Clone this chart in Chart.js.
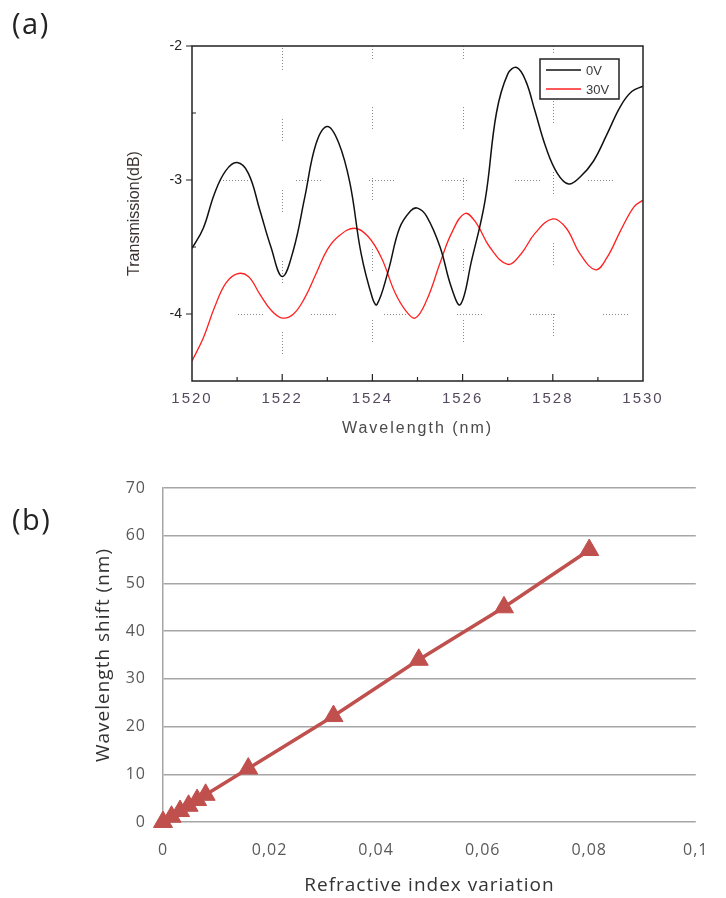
<!DOCTYPE html>
<html>
<head>
<meta charset="utf-8">
<script src="https://cdn.jsdelivr.net/npm/chart.js@4.4.1/dist/chart.umd.min.js"></script>
<style>
  html, body { margin: 0; padding: 0; background: #fff; }
  #page { position: relative; width: 726px; height: 898px; overflow: hidden; background: #fff; }
  .panel-label { position: absolute; left: 12px; font-family: "Open Sans", sans-serif; font-size: 29px; letter-spacing: 1.5px; color: #222; line-height: 1; }
  #chart-a { position: absolute; left: 0; top: 0; }
  #chart-b { position: absolute; left: 0; top: 450px; }
</style>
</head>
<body>
<div id="page">
  <canvas id="chart-a" width="726" height="450"></canvas>
  <canvas id="chart-b" width="726" height="448"></canvas>
  <div class="panel-label" style="top:8px">(a)</div>
  <div class="panel-label" style="top:504px">(b)</div>
</div>
<script>
// (a) transmission spectra
const wavelength0V = [1520, 1520.25, 1520.5, 1520.75, 1521, 1521.25, 1521.5, 1521.75, 1522, 1522.25, 1522.5, 1522.75, 1523, 1523.25, 1523.5, 1523.75, 1524, 1524.1, 1524.35, 1524.6, 1524.85, 1525, 1525.2, 1525.5, 1525.75, 1525.95, 1526.2, 1526.5, 1526.75, 1527, 1527.2, 1527.4, 1527.6, 1527.85, 1528.1, 1528.35, 1528.6, 1528.9, 1529.2, 1529.5, 1529.75, 1530];
const transmission0V = [-3.51, -3.36, -3.10, -2.93, -2.87, -2.95, -3.22, -3.50, -3.72, -3.52, -3.13, -2.73, -2.60, -2.72, -3.02, -3.55, -3.88, -3.93, -3.68, -3.36, -3.23, -3.21, -3.27, -3.50, -3.80, -3.93, -3.60, -3.15, -2.50, -2.21, -2.16, -2.26, -2.48, -2.76, -2.95, -3.03, -2.98, -2.86, -2.66, -2.45, -2.34, -2.30];

const wavelength30V = [1520, 1520.25, 1520.5, 1520.75, 1521, 1521.25, 1521.5, 1521.75, 1522, 1522.25, 1522.5, 1522.75, 1523, 1523.25, 1523.6, 1523.9, 1524.2, 1524.5, 1524.75, 1524.95, 1525.2, 1525.5, 1525.75, 1526.05, 1526.3, 1526.6, 1527, 1527.3, 1527.6, 1528, 1528.3, 1528.6, 1528.95, 1529.2, 1529.5, 1529.8, 1530];
const transmission30V = [-4.35, -4.18, -3.95, -3.77, -3.70, -3.72, -3.85, -3.97, -4.03, -4.00, -3.88, -3.70, -3.52, -3.42, -3.36, -3.42, -3.58, -3.84, -3.98, -4.03, -3.90, -3.62, -3.40, -3.25, -3.32, -3.50, -3.63, -3.55, -3.40, -3.29, -3.36, -3.55, -3.67, -3.58, -3.38, -3.20, -3.15];

const seriesLabels = ['0V', '30V'];
const wavelengthTicks = [1520, 1522, 1524, 1526, 1528, 1530];
const transmissionTicks = [-2, -3, -4];

// (b) wavelength shift vs refractive index variation
const indexVariation = [0, 0.0016, 0.0032, 0.0048, 0.0064, 0.008, 0.016, 0.032, 0.048, 0.064, 0.08];
const wavelengthShift = [0, 1.1, 2.3, 3.4, 4.6, 5.7, 11.2, 22.2, 34.0, 45.0, 57.0];
const indexTicks = [0, 0.02, 0.04, 0.06, 0.08, 0.1];
const shiftTicks = [0, 10, 20, 30, 40, 50, 60, 70];

function toPoints(xs, ys) {
  return xs.map((x, i) => ({ x: x, y: ys[i] }));
}

function useTicks(values) {
  return function(scale) {
    scale.ticks = values.map(v => ({ value: v }));
  };
}

// dotted, broken grid like the Origin export
function dottedRun(ctx, horizontal, fixed, from, to, start, period, len) {
  for (let s = from + start; s < to; s += period) {
    const a = Math.max(s, from);
    const b = Math.min(s + len, to);
    if (b <= a) continue;
    ctx.beginPath();
    if (horizontal) {
      ctx.moveTo(a, fixed);
      ctx.lineTo(b, fixed);
    } else {
      ctx.moveTo(fixed, a);
      ctx.lineTo(fixed, b);
    }
    ctx.stroke();
  }
}

const spectrumDecor = {
  id: 'spectrumDecor',
  beforeDraw(chart) {
    chart.ctx.letterSpacing = '2px';
  },
  beforeDatasetsDraw(chart) {
    const { ctx, chartArea: area, scales } = chart;
    ctx.save();
    ctx.strokeStyle = '#8a8a8a';
    ctx.lineWidth = 1;
    ctx.setLineDash([1, 2]);
    const cols = [[1522, 2], [1524, -10], [1526, -10], [1528, -16]];
    cols.forEach(([v, start]) => {
      const x = Math.round(scales.x.getPixelForValue(v)) + 0.5;
      dottedRun(ctx, false, x, area.top, area.bottom, start, 71, 24);
    });
    const rows = [[-3, 31], [-4, 46]];
    rows.forEach(([v, start]) => {
      const y = Math.round(scales.y.getPixelForValue(v)) + 0.5;
      dottedRun(ctx, true, y, area.left, area.right, start, 73, 26);
    });
    ctx.restore();
  },
  afterDatasetsDraw(chart) {
    const { ctx, chartArea: area, scales } = chart;
    ctx.save();
    ctx.letterSpacing = '0px';
    ctx.strokeStyle = '#222';
    ctx.lineWidth = 1.5;
    ctx.strokeRect(area.left, area.top, area.right - area.left, area.bottom - area.top);

    ctx.lineWidth = 1.2;
    ctx.beginPath();
    for (let w = 1521; w <= 1529; w++) {
      const x = scales.x.getPixelForValue(w);
      const len = (w % 2 === 0) ? 7 : 4;
      ctx.moveTo(x, area.bottom);
      ctx.lineTo(x, area.bottom - len);
    }
    [-2, -3, -4].forEach(v => {
      const y = scales.y.getPixelForValue(v);
      ctx.moveTo(area.left - 6, y);
      ctx.lineTo(area.left, y);
    });
    [-2.5, -3.5].forEach(v => {
      const y = scales.y.getPixelForValue(v);
      ctx.moveTo(area.left, y);
      ctx.lineTo(area.left + 4, y);
    });
    ctx.stroke();

    // legend box
    const bx = area.right - 103, by = area.top + 13, bw = 79, bh = 40;
    ctx.lineWidth = 1.5;
    ctx.strokeStyle = '#222';
    ctx.fillStyle = '#fff';
    ctx.fillRect(bx, by, bw, bh);
    ctx.strokeRect(bx, by, bw, bh);
    ctx.font = '13px "Liberation Sans", Arial, sans-serif';
    ctx.textBaseline = 'middle';
    chart.data.datasets.forEach((ds, i) => {
      const y = by + 11 + i * 19;
      ctx.strokeStyle = ds.borderColor;
      ctx.lineWidth = 1.5;
      ctx.beginPath();
      ctx.moveTo(bx + 6, y);
      ctx.lineTo(bx + 41, y);
      ctx.stroke();
      ctx.fillStyle = '#3a3a3a';
      ctx.fillText(ds.label, bx + 46, y + 1);
    });
    ctx.restore();
    ctx.letterSpacing = '0px';
  }
};

const spacedText = {
  id: 'spacedText',
  beforeDraw(chart) {
    chart.ctx.letterSpacing = '1px';
  }
};

new Chart(document.getElementById('chart-a').getContext('2d'), {
  type: 'line',
  data: {
    datasets: [
      {
        label: seriesLabels[0],
        data: toPoints(wavelength0V, transmission0V),
        borderColor: '#111111',
        borderWidth: 1.5,
        pointRadius: 0,
        tension: 0.4
      },
      {
        label: seriesLabels[1],
        data: toPoints(wavelength30V, transmission30V),
        borderColor: '#ff2020',
        borderWidth: 1.3,
        pointRadius: 0,
        tension: 0.4
      }
    ]
  },
  options: {
    responsive: false,
    animation: false,
    layout: { padding: { top: 46, right: 83, left: 121, bottom: 8 } },
    plugins: { legend: { display: false }, tooltip: { enabled: false } },
    scales: {
      x: {
        type: 'linear',
        min: 1520,
        max: 1530,
        afterBuildTicks: useTicks(wavelengthTicks),
        afterFit: s => { s.height = 61; },
        grid: { display: false, drawTicks: false },
        border: { display: false },
        ticks: {
          padding: 9,
          color: '#54495e',
          font: { family: '"Liberation Sans", Arial, sans-serif', size: 15 },
          callback: v => String(v)
        },
        title: {
          display: true,
          text: 'Wavelength (nm)',
          color: '#4a4a4a',
          font: { family: '"Liberation Sans", Arial, sans-serif', size: 16 }
        }
      },
      y: {
        type: 'linear',
        min: -4.5,
        max: -2,
        afterBuildTicks: useTicks(transmissionTicks),
        afterFit: s => { s.width = 71; },
        grid: { display: false, drawTicks: false, z: 1 },
        border: { display: false },
        ticks: {
          z: 1,
          padding: 10,
          color: '#222',
          font: { family: '"Liberation Sans", Arial, sans-serif', size: 14 },
          callback: v => String(v)
        },
        title: {
          display: true,
          text: 'Transmission(dB)',
          color: '#3b3333',
          font: { family: '"Liberation Sans", Arial, sans-serif', size: 16 }
        }
      }
    }
  },
  plugins: [spectrumDecor]
});

new Chart(document.getElementById('chart-b').getContext('2d'), {
  type: 'line',
  data: {
    datasets: [{
      label: 'Wavelength shift',
      data: toPoints(indexVariation, wavelengthShift),
      borderColor: '#c0504d',
      backgroundColor: '#c0504d',
      borderWidth: 3.5,
      pointStyle: 'triangle',
      pointRadius: 11,
      pointBorderWidth: 1,
      pointBorderColor: '#c0504d',
      pointBackgroundColor: '#c0504d',
      tension: 0,
      clip: false
    }]
  },
  options: {
    responsive: false,
    animation: false,
    layout: { padding: { top: 38, right: 13, left: 88, bottom: 1 } },
    plugins: { legend: { display: false }, tooltip: { enabled: false } },
    scales: {
      x: {
        type: 'linear',
        min: 0,
        max: 0.1,
        afterBuildTicks: useTicks(indexTicks),
        afterFit: s => { s.height = 75; },
        grid: { display: false, drawTicks: false },
        border: { display: false },
        ticks: {
          padding: 19,
          color: '#595959',
          font: { family: '"Open Sans", sans-serif', size: 16 },
          callback: v => String(Math.round(v * 100) / 100).replace('.', ',')
        },
        title: {
          display: true,
          text: 'Refractive index variation',
          color: '#333333',
          padding: { top: 0, bottom: 0 },
          font: { family: '"Open Sans", sans-serif', size: 19 }
        }
      },
      y: {
        type: 'linear',
        min: 0,
        max: 70,
        afterBuildTicks: useTicks(shiftTicks),
        afterFit: s => { s.width = 75; },
        grid: { color: '#a6a6a6', lineWidth: 1.5, drawTicks: false },
        border: { display: true, color: '#a6a6a6', width: 1.5 },
        ticks: {
          padding: 17,
          color: '#595959',
          font: { family: '"Open Sans", sans-serif', size: 16 }
        },
        title: {
          display: true,
          text: 'Wavelength shift (nm)',
          color: '#333333',
          font: { family: '"Open Sans", sans-serif', size: 19 }
        }
      }
    }
  },
  plugins: [spacedText]
});
</script>
</body>
</html>
